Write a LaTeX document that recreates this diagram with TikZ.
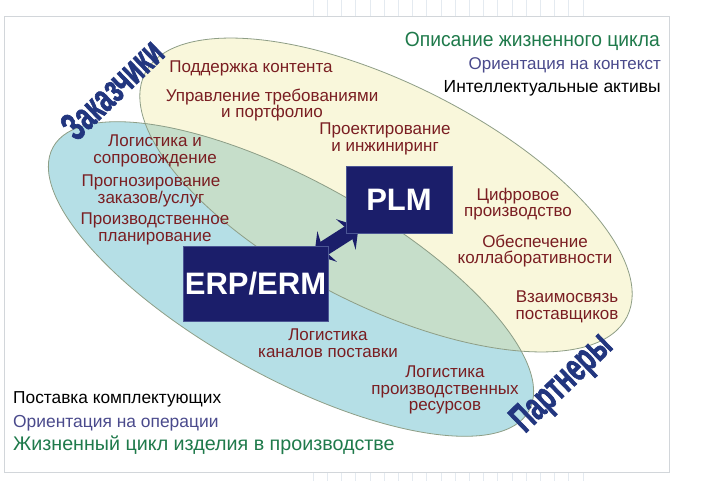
\documentclass[tikz,border=0pt]{standalone}
\usepackage{fontspec}
\setmainfont{Liberation Sans}
\newfontfamily\partyfont{Liberation Sans}[FakeStretch=0.62,FakeBold=1.6]
\newfontfamily\greenfont{Liberation Sans}[FakeStretch=0.94]
\usetikzlibrary{arrows.meta,calc}
\definecolor{yel}{HTML}{F9F7DB}
\definecolor{blu}{HTML}{B5DFE6}
\definecolor{ovl}{HTML}{C6DECA}
\definecolor{edgec}{HTML}{8E9E86}
\definecolor{txtred}{HTML}{7A1E22}
\definecolor{navy}{HTML}{1B1E6A}
\definecolor{navyedge}{HTML}{4B5694}
\definecolor{grn}{HTML}{1F7A4B}
\definecolor{pur}{HTML}{4A4A8C}
\definecolor{lbl}{HTML}{22367F}
\definecolor{framec}{HTML}{D2D6DA}
\definecolor{gridc}{HTML}{E4EAF0}
\pgfdeclarelayer{back}
\pgfdeclarelayer{mid}
\pgfsetlayers{back,mid,main}
\begin{document}
\begin{tikzpicture}[x=1pt,y=-1pt,
  item/.style={text=txtred, align=center, font=\fontsize{17}{16.5}\selectfont, inner sep=0pt},
  sys/.style={fill=navy, draw=navyedge, line width=0.8pt, text=white, font=\fontsize{31}{31}\bfseries\selectfont, inner sep=0pt},
  corner/.style={inner sep=0pt},
  party/.style={text=lbl, font=\fontsize{40}{40}\partyfont\bfseries\selectfont, inner sep=0pt},
  yellipse/.style={rotate around={-26.8:(386,195)}},
  bellipse/.style={rotate around={-29:(291,279)}}]
\useasboundingbox (0,0) rectangle (702,481);
\begin{pgfonlayer}{back}
\fill[white] (0,0) rectangle (702,481);
\foreach \i in {0,...,19} {
  \draw[gridc, line width=0.6pt] (313+14.2*\i,0) -- (313+14.2*\i,16);
  \draw[gridc, line width=0.6pt] (313+14.2*\i,472) -- (313+14.2*\i,481);
}
\draw[framec, line width=0.8pt] (4,16) rectangle (669,472);
\fill[yel, yellipse] (386,195) ellipse [x radius=270pt, y radius=111pt];
\fill[blu, bellipse] (291,279) ellipse [x radius=272pt, y radius=98pt];
\begin{scope}
  \clip[bellipse] (291,279) ellipse [x radius=272pt, y radius=98pt];
  \fill[ovl, yellipse] (386,195) ellipse [x radius=270pt, y radius=111pt];
\end{scope}
\draw[edgec, line width=0.8pt, yellipse] (386,195) ellipse [x radius=270pt, y radius=111pt];
\draw[edgec, line width=0.8pt, bellipse] (291,279) ellipse [x radius=272pt, y radius=98pt];
\end{pgfonlayer}

\node[sys, minimum width=106pt, minimum height=67pt] (plm) at (399,199.5) {PLM};
\node[sys, minimum width=145pt, minimum height=75pt] (erp) at (255.5,283.5) {ERP/ERM};

\begin{pgfonlayer}{mid}
\draw[navy, line width=15pt, {Stealth[width=36pt,length=15pt,inset=5pt]}-{Stealth[width=36pt,length=15pt,inset=5pt]}]
  ($(erp.north east)+(-14,9)$) -- ($(plm.south west)+(13,-7)$);
\end{pgfonlayer}

\node[item] (t1) at (251,68) {Поддержка контента};
\node[item] (t2) at (272,105) {Управление требованиями\\и портфолио};
\node[item] (t3) at (385,139) {Проектирование\\и инжиниринг};
\node[item] (t4) at (155,151) {Логистика и\\сопровождение};
\node[item] (t5) at (151,191) {Прогнозирование\\заказов/услуг};
\node[item] (t6) at (155,229) {Производственное\\планирование};
\node[item] (t7) at (518,204) {Цифровое\\производство};
\node[item] (t8) at (535,251) {Обеспечение\\коллаборативности};
\node[item] (t9) at (567,307) {Взаимосвязь\\поставщиков};
\node[item] (t10) at (328,343) {Логистика\\каналов поставки};
\node[item] (t11) at (445,390) {Логистика\\производственных\\ресурсов};

\node[corner, text=grn, anchor=base east, font=\fontsize{20.5}{20.5}\greenfont\selectfont] (c1) at (660,47) {Описание жизненного цикла};
\node[corner, text=pur, anchor=base east, font=\fontsize{17}{17}\selectfont] (c2) at (661,70) {Ориентация на контекст};
\node[corner, text=black, anchor=base east, font=\fontsize{17.5}{17.5}\selectfont] (c3) at (661,93) {Интеллектуальные активы};
\node[corner, text=black, anchor=base west, font=\fontsize{17.3}{17.3}\selectfont] (c4) at (13,403) {Поставка комплектующих};
\node[corner, text=pur, anchor=base west, font=\fontsize{17.4}{17.4}\selectfont] (c5) at (13,427) {Ориентация на операции};
\node[corner, text=grn, anchor=base west, font=\fontsize{19.7}{19.7}\selectfont] (c6) at (13,450) {Жизненный цикл изделия в производстве};

\node[party, rotate=44] (zak) at (112,89) {Заказчики};
\node[party, rotate=44] (par) at (563,384) {Партнеры};
\end{tikzpicture}
\end{document}
